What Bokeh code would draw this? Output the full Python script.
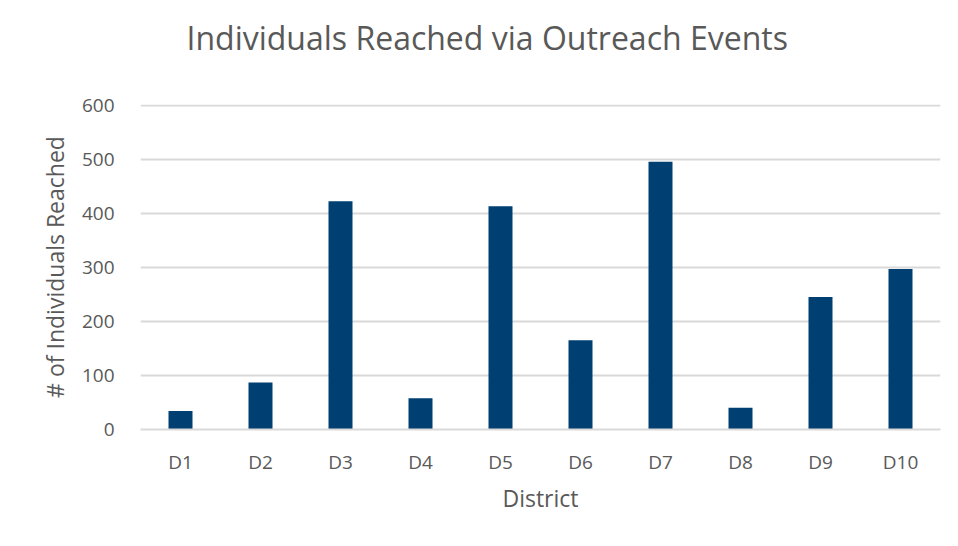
from bokeh.plotting import figure
from bokeh.embed import file_html
from bokeh.resources import INLINE
from bokeh.models import ColumnDataSource, FixedTicker

districts = ["D1", "D2", "D3", "D4", "D5", "D6", "D7", "D8", "D9", "D10"]
reached = [34, 87, 422, 58, 413, 165, 495, 40, 245, 297]
y_ticks = [0, 100, 200, 300, 400, 500, 600]
title_text = "Individuals Reached via Outreach Events"

src = ColumnDataSource(data=dict(district=districts, reached=reached))

FONT = "Open Sans"
TXT = "#595959"

p = figure(x_range=districts, y_range=(0, 601), width=942, height=530,
           output_backend="svg", toolbar_location=None,
           title=title_text + "\n",
           min_border_left=140, min_border_right=2,
           min_border_top=104, min_border_bottom=101)

p.vbar(x="district", top="reached", width=0.3, source=src,
       fill_color="#003F72", line_color=None)

p.title.align = "left"
p.title.vertical_align = "bottom"
p.title.text_font = FONT
p.title.text_font_size = "32px"
p.title.text_font_style = "normal"
p.title.text_color = TXT
p.title.text_line_height = 1.05
p.title.offset = 46
p.title.standoff = 0

p.outline_line_color = None
p.background_fill_color = "white"
p.border_fill_color = "white"

p.xgrid.grid_line_color = None
p.ygrid.grid_line_color = "#d9d9d9"
p.ygrid.grid_line_width = 2

p.yaxis.ticker = FixedTicker(ticks=y_ticks)
p.yaxis.axis_line_color = None
p.yaxis.major_tick_line_color = None
p.yaxis.minor_tick_line_color = None
p.yaxis.major_label_text_font = FONT
p.yaxis.major_label_text_font_size = "19px"
p.yaxis.major_label_text_color = TXT
p.yaxis.major_label_standoff = 20
p.yaxis.axis_label = "# of Individuals Reached"
p.yaxis.axis_label_text_font = FONT
p.yaxis.axis_label_text_font_size = "23px"
p.yaxis.axis_label_text_font_style = "normal"
p.yaxis.axis_label_text_color = TXT
p.yaxis.axis_label_standoff = 8

p.xaxis.axis_line_color = "#d9d9d9"
p.xaxis.axis_line_width = 2
p.xaxis.major_tick_line_color = None
p.xaxis.minor_tick_line_color = None
p.xaxis.major_label_text_font = FONT
p.xaxis.major_label_text_font_size = "19px"
p.xaxis.major_label_text_color = TXT
p.xaxis.major_label_standoff = 13
p.xaxis.axis_label = "District"
p.xaxis.axis_label_text_font = FONT
p.xaxis.axis_label_text_font_size = "23px"
p.xaxis.axis_label_text_font_style = "normal"
p.xaxis.axis_label_text_color = TXT
p.xaxis.axis_label_standoff = 4

p.x_range.range_padding = 0.0

open("out.html", "w").write(file_html(p, INLINE))
